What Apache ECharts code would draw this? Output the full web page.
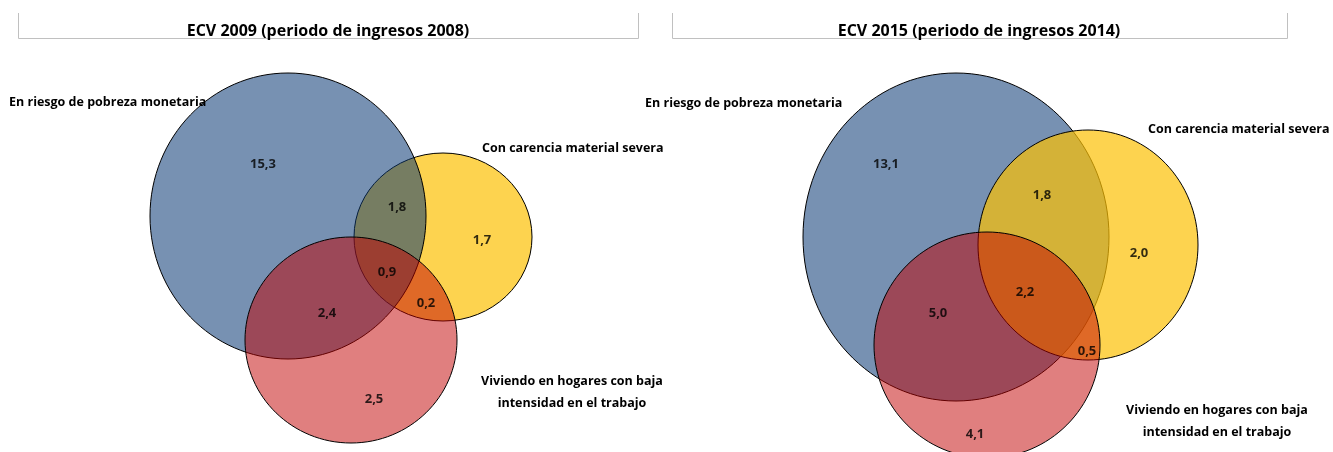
<!DOCTYPE html>
<html>
<head>
<meta charset="utf-8">
<script src="https://cdn.jsdelivr.net/npm/echarts@6/dist/echarts.min.js"></script>
<style>
  html, body { margin: 0; padding: 0; background: #fff; }
  #main { width: 1333px; height: 452px; }
</style>
</head>
<body>
<div id="main"></div>
<script>
// datos
var titles = ['ECV 2009 (periodo de ingresos 2008)', 'ECV 2015 (periodo de ingresos 2014)'];
var setNames = ['En riesgo de pobreza monetaria', 'Con carencia material severa', 'Viviendo en hogares con baja\nintensidad en el trabajo'];
// orden: solo pobreza, pobreza+carencia, solo carencia, las tres, carencia+baja int., pobreza+baja int., solo baja int.
var values2009 = [15.3, 1.8, 1.7, 0.9, 0.2, 2.4, 2.5];
var values2015 = [13.1, 1.8, 2.0, 2.2, 0.5, 5.0, 4.1];

// disposicion (unidades del panel)
var circles2009 = [[288, 216, 138, 143], [443, 237, 89, 84], [351, 340, 106, 103]];
var circles2015 = [[290, 237, 153, 164], [422, 245, 110, 115], [321, 345, 113, 113]];
var order2009 = [1, 0, 2];
var order2015 = [0, 1, 2];
var valuePos2009 = [[263, 164], [397, 207], [482, 240], [387, 272], [426, 303], [327, 313], [374, 399]];
var valuePos2015 = [[220, 164], [376, 195], [473, 253], [359, 292], [421, 351], [272, 313], [309, 434]];
var namePos2009 = [[9, 102, 'left'], [482, 148, 'left'], [572, 392, 'center']];
var namePos2015 = [[-21, 103, 'left'], [482, 129, 'left'], [551, 421, 'center']];

var fills = ['rgba(8,55,115,0.55)', 'rgba(252,192,4,0.7)', 'rgba(193,0,0,0.5)'];
var fontFamily = '"Open Sans", sans-serif';

var chart = echarts.init(document.getElementById('main'));

function fmt(v) {
  return v.toFixed(1).replace('.', ',');
}

function buildPanel(idx, circles, order, values, valuePos, namePos) {
  var circleData = order.map(function (k) {
    var c = circles[k];
    return [c[0], c[1], c[2] * 2, c[3] * 2, k];
  });
  var valueData = values.map(function (v, i) {
    return [valuePos[i][0], valuePos[i][1], v];
  });
  var nameData = namePos.map(function (p, i) {
    return [p[0], p[1], i];
  });
  return [{
    type: 'custom',
    xAxisIndex: idx,
    yAxisIndex: idx,
    clip: false,
    silent: true,
    renderItem: function (params, api) {
      var c = api.coord([api.value(0), api.value(1)]);
      var s = api.size([api.value(2), api.value(3)]);
      return {
        type: 'ellipse',
        shape: { cx: c[0], cy: c[1], rx: s[0] / 2, ry: s[1] / 2 },
        style: { fill: fills[api.value(4)], stroke: '#000', lineWidth: 1 }
      };
    },
    data: circleData
  }, {
    type: 'scatter',
    xAxisIndex: idx,
    yAxisIndex: idx,
    symbolSize: 0,
    silent: true,
    label: {
      show: true,
      position: 'inside',
      color: '#000',
      fontWeight: 'bold',
      fontSize: 13,
      fontFamily: fontFamily,
      formatter: function (p) { return fmt(p.value[2]); }
    },
    data: valueData
  }, {
    type: 'custom',
    xAxisIndex: idx,
    yAxisIndex: idx,
    clip: false,
    silent: true,
    renderItem: function (params, api) {
      var c = api.coord([api.value(0), api.value(1)]);
      var k = api.value(2);
      return {
        type: 'text',
        x: c[0],
        y: c[1],
        style: {
          text: setNames[k],
          fill: '#000',
          font: 'bold 12.5px ' + fontFamily,
          align: namePos[k][2],
          verticalAlign: 'middle',
          lineHeight: 22
        }
      };
    },
    data: nameData
  }];
}

var option = {
  animation: false,
  grid: [
    { left: 0, top: 0, width: 666, height: 452 },
    { left: 666, top: 0, width: 666, height: 452 }
  ],
  xAxis: [
    { type: 'value', gridIndex: 0, min: 0, max: 666, show: false },
    { type: 'value', gridIndex: 1, min: 0, max: 666, show: false }
  ],
  yAxis: [
    { type: 'value', gridIndex: 0, min: 0, max: 452, inverse: true, show: false },
    { type: 'value', gridIndex: 1, min: 0, max: 452, inverse: true, show: false }
  ],
  graphic: [
    { type: 'polyline', shape: { points: [[18.5, 13], [18.5, 38.5], [638.5, 38.5], [638.5, 13]] }, style: { stroke: '#c0c0c0', fill: null, lineWidth: 1 } },
    { type: 'text', x: 328, y: 31, style: { text: titles[0], align: 'center', verticalAlign: 'middle', font: 'bold 16px ' + fontFamily, fill: '#000' } },
    { type: 'polyline', shape: { points: [[672.5, 13], [672.5, 38.5], [1287.5, 38.5], [1287.5, 13]] }, style: { stroke: '#c0c0c0', fill: null, lineWidth: 1 } },
    { type: 'text', x: 979, y: 31, style: { text: titles[1], align: 'center', verticalAlign: 'middle', font: 'bold 16px ' + fontFamily, fill: '#000' } }
  ],
  series: [].concat(
    buildPanel(0, circles2009, order2009, values2009, valuePos2009, namePos2009),
    buildPanel(1, circles2015, order2015, values2015, valuePos2015, namePos2015)
  )
};

chart.setOption(option);
</script>
</body>
</html>
